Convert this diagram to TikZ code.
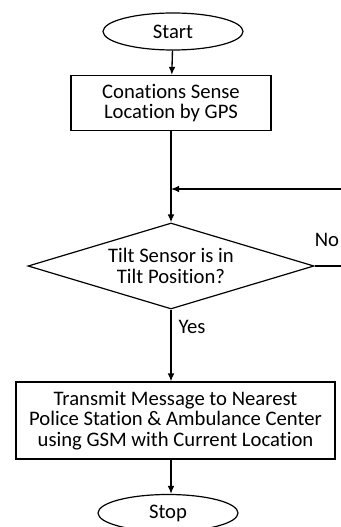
\documentclass[tikz,border=0pt]{standalone}
\usepackage{fontspec}
\setmainfont[Ligatures=NoCommon]{Carlito}
\usetikzlibrary{shapes,arrows.meta}
\tikzstyle{node_terminal} = [ellipse, draw, line width=0.9pt, inner sep=0pt, minimum width=105pt, minimum height=27.75pt]
\tikzstyle{node_process} = [rectangle, draw, line width=0.9pt, align=center, inner sep=0pt]
\tikzstyle{node_decision} = [diamond, draw, line width=0.9pt, align=center, inner sep=0pt, aspect=3.3, minimum width=214.5pt, minimum height=64.5pt]
\tikzstyle{edge_normal} = [line width=1pt, -{Latex[length=6pt,width=5pt]}]
\tikzstyle{edge_plain} = [line width=1pt]

\begin{document}
\begin{tikzpicture}[x=0.75pt, y=-0.75pt, font=\fontsize{15.5}{15.5}\selectfont]
\useasboundingbox (0,0) rectangle (341,527);
\clip (0,0) rectangle (341,527);
\node (start) at (173,31.5) [node_terminal] {Start};
\node (sense) at (171,103) [node_process, minimum width=150pt, minimum height=41.25pt] {Conations Sense\\Location by GPS};
\node (tilt) at (171,266) [node_decision] {Tilt Sensor is in\\Tilt Position?};
\node (send) at (175.5,420.5) [node_process, minimum width=239.25pt, minimum height=57.75pt] {Transmit Message to Nearest\\Police Station \& Ambulance Center\\using GSM with Current Location};
\node (stop) at (168,513) [node_terminal] {Stop};
\node (no) at (327,240) {No};
\node (yes) at (192,327) {Yes};
\coordinate (join) at (171,189);
\coordinate (loopA) at (360,266);
\coordinate (loopB) at (360,189);
\draw[edge_normal] (start) -- (sense);
\draw[edge_normal] (sense) -- (tilt);
\draw[edge_plain] (tilt.east) -- (loopA) -- (loopB);
\draw[edge_normal] (loopB) -- (join);
\draw[edge_normal] (tilt.south) -- (tilt.south |- send.north);
\draw[edge_normal] (tilt.south |- send.south) -- (tilt.south |- stop.north);
\end{tikzpicture}
\end{document}
